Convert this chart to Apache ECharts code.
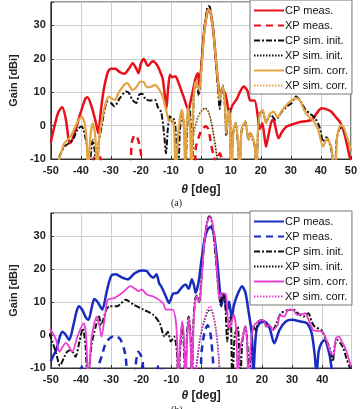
<!DOCTYPE html>
<html><head><meta charset="utf-8">
<script src="https://cdn.jsdelivr.net/npm/echarts@6/dist/echarts.min.js"></script>
<style>html,body{margin:0;padding:0;background:#fff}#c{width:360px;height:409px}</style>
</head><body><div id="c"></div><script>
// ---- tick labels ----
const xTicksA = [-50,-40,-30,-20,-10,0,10,20,30,40,50];
const xTicksB = [-50,-40,-30,-20,-10,0,10,20,30,40];
const yTicks = [-10,0,10,20,30];
const legendNames = ['CP meas.','XP meas.','CP sim. init.','XP sim. init.','CP sim. corr.','XP sim. corr.'];

// ---- (a) data: [theta deg, gain dBi] ----
const cpMeasA = [[-50,-5],[-49,-1],[-47.5,4],[-46.2,5.5],[-45,2],[-44,-4.5],[-43.5,-5.3],[-42,-2],[-40,4],[-38.5,8],[-37.8,8.5],[-36.5,6],[-35,1],[-34.2,-2.3],[-33.5,3],[-32.5,10],[-31,16],[-30,17],[-28.5,17],[-27,16],[-25.5,15.5],[-24,17],[-22.7,18.7],[-21.5,17],[-20.8,15.7],[-20,18.5],[-19,19.9],[-18,18.3],[-17.5,17.9],[-16.5,19],[-15.9,19.3],[-14.5,18],[-13.5,16],[-12.7,14],[-12,9],[-11.5,5],[-11,10],[-10.3,15.2],[-9.5,14.5],[-8.5,14.8],[-7.5,13],[-6.5,10.5],[-5.5,8],[-4.2,4.7],[-3,9],[-1.8,14],[-1,15.7],[-0.5,12],[0,16],[1,27],[2,33.5],[2.6,34.7],[3.3,33.5],[4.3,27],[5.3,17],[6.1,10.7],[7,10],[8,10],[9.5,3.5],[10.5,6],[12,8],[13,10],[14.3,11.7],[15.5,10.5],[16.5,7.5],[17.9,7.5],[19,2.7],[19.6,-1],[20.5,0.7],[21.7,-6.3],[22.5,-3],[23.8,1.7],[24.5,1],[25.9,-3.8],[27,-2],[28.6,-0.3],[31,0.5],[33.9,1.2],[37,1.7],[38.5,3.5],[40.2,5.2],[41.5,5],[43.4,4.2],[45,2.5],[46.6,0.7],[48,-3],[49.7,-9.8],[50,-10.5]];
const xpMeasA = [[-36.5,-15],[-35,-7.5],[-34.3,-12],[-33.5,-9.5],[-32.8,-12],[-24,-12],[-23,-5],[-22,-2.8],[-21,-4],[-20,-8],[-19.5,-12],[-2.5,-12],[-1.6,-6.2],[0,-1.8],[1.6,-0.2],[2.5,-1],[3.5,-6],[4.2,-8.8],[5,-11],[5.5,-10],[6.3,-8.3],[7,-10],[7.5,-13]];
const cpSimInitA = [[-50,-20],[-48,-12],[-47,-9],[-45.5,-6.3],[-44,-5.3],[-42.5,-4],[-41,-1],[-39.7,-0.3],[-39,-1.5],[-38,-6],[-37.3,-15],[-36.5,-7],[-36,-4.3],[-35.3,-8],[-34.8,-15],[-34,-5],[-33,0],[-32.3,3.7],[-31.2,7.2],[-30,6.8],[-28.8,5.8],[-27,8.2],[-25,10.2],[-24,9.8],[-22.8,7.7],[-21.5,6.8],[-20.6,9.2],[-19.5,9.5],[-18.5,8],[-17,7.5],[-15.3,7.7],[-14.3,5.5],[-13.2,4],[-12.3,-2],[-11.6,-8.3],[-11,-1],[-10.3,3.2],[-9.6,1.2],[-9,2],[-8.5,-0.3],[-7.6,-15],[-7,-2],[-6.3,4.2],[-5.5,-2],[-5.1,-15],[-4.6,-1],[-3.9,5.7],[-3.3,0],[-2.9,-15],[-2.4,8],[-1.7,13.2],[-1.2,12],[-0.7,9],[0,16],[1,28],[2,34.5],[2.5,35.8],[3,35.5],[4,30],[5,19],[5.8,10],[6.3,5],[6.7,9],[7.3,12],[8,6],[8.5,-3],[9,2],[9.6,5],[10.1,-15],[10.8,-2],[11.6,0.7],[12.3,-5],[12.9,-15],[13.5,-2],[14.8,1.2],[15.9,-4.3],[16.5,-2.3],[17.2,-4],[18,-6.3],[18.5,-15],[19,-3],[19.6,3.7],[20.6,4.2],[21.7,1.2],[23.3,3.2],[24.9,1.7],[27,4.2],[28.6,5.7],[30.2,6.7],[31.7,8.7],[33.3,7.2],[34.9,4.7],[36.5,3.5],[38.1,2.2],[39.7,-0.8],[40.7,-4.8],[41.8,-3.5],[43.4,-6.8],[44.5,-15],[45.3,-4],[46,-1.3],[47.1,-0.3],[48.2,-2.5],[49.7,-6.3],[50,-7.5]];
const xpSimInitA = [[-4.5,-15],[-3.5,-10],[-2.5,-3],[-1,2.5],[0.5,4.8],[1.5,5.2],[2.5,4.2],[3.5,1],[4.5,-4],[5.5,-10],[6.5,-15]];
const cpSimCorrA = [[-50,-20],[-48.5,-13],[-47.1,-9.8],[-45.5,-5.3],[-43.4,-3.3],[-41.3,0.7],[-39.7,2.7],[-38.8,1],[-38,-5],[-37.6,-15],[-36.8,-3],[-36,0.7],[-35.2,-3],[-34.5,-15],[-33.8,-3],[-32.7,3],[-31.7,6.7],[-30.7,8.7],[-29.5,8],[-28.6,7.7],[-27.5,9.7],[-25.5,12.2],[-24.5,12.7],[-22.8,10.7],[-21.5,11.5],[-20.1,13.2],[-19,13],[-18,11.5],[-17,11.5],[-15.3,12.2],[-14,11],[-12.7,8.7],[-11.6,4.7],[-10.5,1.5],[-9.5,1.7],[-8.9,-1],[-8.4,-15],[-7.5,-2],[-6.3,4.7],[-5.6,-1],[-5.2,-15],[-4.8,-1],[-4.2,5.7],[-3.6,-1],[-3.1,-15],[-2.6,5],[-2.1,11.7],[-1.6,13.2],[-1,11.5],[-0.5,10.7],[0.2,17],[1.1,27.7],[2,33.5],[2.6,34.9],[3.2,34],[4.2,27.7],[5.2,18],[5.8,12],[6.3,7.7],[6.8,10],[7.4,11.7],[8,7],[8.5,-2.3],[9,2],[9.5,4.7],[10.2,-15],[10.9,-1],[11.6,0.7],[12.3,-4],[12.9,-15],[13.6,-1],[14.8,1.2],[15.9,-4.3],[16.6,-2.3],[17.3,-3.5],[18,-6.3],[18.5,-15],[19,-2],[19.6,3.2],[20.6,4.7],[21.7,0.7],[23,3.5],[24.3,4.2],[25.5,2.5],[27,4.5],[29.1,6.7],[31.7,8.2],[33,7.5],[34.4,4.7],[35.9,2.7],[37.5,1.5],[39.1,-1.3],[40.7,-6.3],[42,-4],[43.5,-6.5],[44.6,-15],[45.5,-3],[46.6,0.2],[47.6,-0.5],[48.5,-3],[49.7,-6.3],[50,-7.5]];
const xpSimCorrA = [[-4.5,-15],[-3.5,-10.5],[-2.5,-3.5],[-1,2],[0.5,4.5],[1.5,4.9],[2.5,4],[3.5,0.8],[4.5,-4.5],[5.5,-10.5],[6.5,-15]];

// ---- (b) data: [theta deg, gain dBi] ----
const cpMeasB = [[-50,-8],[-49,-6],[-48.2,-4.6],[-47,-0.5],[-46.1,1],[-45,0],[-43.9,-1.5],[-42.5,3],[-41.5,7],[-40.7,8.7],[-39.5,7.5],[-38.5,5.5],[-37.5,4.6],[-36.5,8],[-35.6,10.9],[-34.5,10],[-33.5,8.5],[-32.9,7.7],[-31.5,13],[-30,17.9],[-28.4,18.4],[-26.5,17.5],[-24.4,16.9],[-22.5,18.5],[-21,19.3],[-19.8,19.6],[-18.2,19.4],[-17,18],[-16,17.4],[-15,18.4],[-14,15.5],[-13.4,14.8],[-12,12],[-10.8,9.7],[-9.5,12.5],[-8,12.8],[-6.5,14.5],[-5.3,15.3],[-4.3,14],[-3.2,16.9],[-2.5,15],[-2,12.8],[-1,16],[0,23],[1,29],[2,32],[3,32.8],[4,31],[5,24],[6,14],[6.5,8.7],[7.5,12.5],[8.3,7],[9.1,10.2],[10,5],[10.7,9],[12,12.5],[13.4,14.8],[14.5,13],[15.6,7],[16.6,0.5],[17.2,-12],[17.6,-5],[18.2,1.5],[19.3,3.6],[20.9,4],[22.5,2.2],[24.1,-2.5],[25.8,1.5],[27.9,4.1],[30,4.6],[32.7,4.1],[34.9,3.6],[36.5,0.5],[37.5,-6],[38.1,-12],[38.8,-5],[39.7,-2.5],[40.7,-1.5],[42.3,-5.5],[43.5,-12],[45,-15]];
const xpMeasB = [[-41,-15],[-40,-10],[-39.2,-9.5],[-38.5,-15],[-34.5,-15],[-33.9,-8.7],[-33.2,-6.6],[-32,-3],[-31,-1.5],[-29,-0.2],[-27.5,-0.8],[-26.8,-1.5],[-25.8,-4],[-25.2,-6.5],[-24.5,-12],[-22.5,-15],[-22,-10],[-21,-5.1],[-20.2,-6],[-19.5,-8.5],[-19,-15],[-15,-15],[-14.5,-9.5],[-14,-12],[-13,-9.5],[-12.5,-15],[-1,-15],[0,-5],[1,1],[2,3],[3,0],[3.8,-8],[4.3,-15]];
const cpSimInitB = [[-50.5,0.5],[-49.5,-2],[-48.2,-5.6],[-47,-9.3],[-45.5,-6.6],[-44.5,-5],[-43.4,-4.6],[-42.5,-5.5],[-41.8,-6.6],[-40.5,-2],[-39.4,2],[-38.5,-3],[-37.8,-15],[-36.5,-3],[-35.1,2.6],[-34,5.6],[-33.3,3],[-32.5,5],[-31.6,7.7],[-30.5,8.7],[-28,8.7],[-25.2,10.7],[-22.5,9.2],[-19.3,7.7],[-16,6.1],[-13.9,3.6],[-12.3,-0.5],[-11.2,1],[-10.2,-2],[-9.1,-0.5],[-8.2,-5],[-7.7,-15],[-7,-3],[-6.4,3],[-5.9,-3],[-5.4,-15],[-4.9,-1],[-4.3,5.6],[-3.7,1],[-3.2,-15],[-2.7,4],[-2.1,11.2],[-1.5,12],[-0.8,10],[0,18],[1,29],[2,35],[2.6,36],[3.2,35.3],[4,30],[5,20],[5.8,12],[6.4,9],[7,13],[7.8,10],[8.5,-2],[9,3],[9.6,5.5],[10.2,-15],[11,0],[12,2.5],[12.8,-15],[13.5,-2],[14.5,2.6],[15.2,-3],[15.7,-15],[16.5,-2],[17.2,2.6],[18,1.5],[18.8,4.1],[20.4,4.6],[21.5,2.6],[22.5,3],[23.6,1.5],[25,4],[26.3,6.6],[28.5,7.5],[30.6,7.7],[32,6.5],[33.8,5.6],[35.4,6.6],[36.5,4],[37.5,2.5],[39.7,1.5],[41,-1],[42.5,-4],[43.5,-8],[44.2,-3],[45,-1.5],[46,-2.5],[47,-4],[48,-7],[49,-9.5],[49.5,-10.5]];
const xpSimInitB = [[-2.5,-15],[-1.5,-8],[-0.5,-1],[0.8,4],[2,7],[3,7.7],[4,5.5],[5,0],[5.8,-8],[6.3,-15]];
const cpSimCorrB = [[-50.3,2],[-49.3,0.5],[-48.2,-1.5],[-47.1,-5.1],[-46,-3.5],[-45,-2.4],[-44,-3.5],[-42.9,-5.1],[-41,0],[-39.1,3.6],[-38.3,0],[-37.6,-15],[-36.5,-1],[-34.8,5.6],[-33.9,3],[-33.2,-0.5],[-32,6],[-31.1,10.7],[-28.9,11.2],[-26,13],[-23.6,14.8],[-22,14],[-20.9,13.3],[-19.8,13.8],[-18.2,12.3],[-16,11.7],[-12.8,9.7],[-11.8,7.7],[-9.6,7.7],[-8.6,4.6],[-8.1,-2],[-7.8,-15],[-7.1,-2],[-6.4,4.1],[-5.8,-2],[-5.3,-15],[-4.8,-1],[-4.3,5.1],[-3.7,-1],[-3.2,-15],[-2.7,3],[-2.1,10.2],[-1.6,11.7],[-1,10],[-0.3,13],[0.8,27],[1.8,34],[2.7,35.8],[3.5,34.5],[4.5,27],[5.4,15],[5.9,11],[6.5,12.8],[7.5,12.5],[8.1,12.3],[8.8,4],[9.3,2],[10.7,6.1],[11.5,1],[12,-15],[12.6,-5],[13.4,-1.5],[14.5,2.6],[15,-0.5],[15.5,-15],[16.3,-3],[17.2,2.6],[18.8,4.1],[20.4,4.6],[21.5,2.6],[22.5,3],[23.6,1.5],[25.2,3.1],[26,6],[27.4,5.6],[28.5,7.5],[29.5,7.7],[30.5,7.5],[31.6,6.1],[33,6.3],[34.3,6.6],[35.9,3.6],[37,1.5],[38.6,1.2],[40,1],[41,-0.5],[42.9,-5.6],[43.8,-6],[44.5,-1],[45.6,-0.5],[46.5,-2],[47.7,-4.1],[49.3,-8.7],[49.6,-9.5]];
const xpSimCorrB = [[-2.5,-15],[-1.5,-7.5],[-0.5,-0.5],[0.8,4.5],[2,8],[2.8,8.7],[3.8,6.5],[4.8,1],[5.7,-7],[6.3,-15]];

const RED = '#e8101a', ORANGE = '#e3a443', BLUE = '#1a2cc0', MAGENTA = '#ea3fd6', BLACK = '#111';
const ZW = '\u200b';

function mkSeries(name, data, color, width, type, xi, yi, z) {
  return { name, type: 'line', data, xAxisIndex: xi, yAxisIndex: yi, symbol: 'none', smooth: 0.25,
    clip: true, z, lineStyle: { color, width, type }, itemStyle: { color } };
}
const DASH = [7, 5], DASHDOT = [6, 2, 2, 2], DOT = [1.5, 1.5];
const sA = [
  mkSeries(legendNames[0], cpMeasA, RED, 2.5, 'solid', 0, 0, 2),
  mkSeries(legendNames[1], xpMeasA, RED, 2.5, DASH, 0, 0, 2),
  mkSeries(legendNames[2], cpSimInitA, BLACK, 2, DASHDOT, 0, 0, 3),
  mkSeries(legendNames[3], xpSimInitA, BLACK, 1.5, DOT, 0, 0, 3),
  mkSeries(legendNames[4], cpSimCorrA, ORANGE, 2.2, 'solid', 0, 0, 4),
  mkSeries(legendNames[5], xpSimCorrA, ORANGE, 1.5, DOT, 0, 0, 4)
];
const sB = [
  mkSeries(legendNames[0]+ZW, cpMeasB, BLUE, 2.5, 'solid', 1, 1, 2),
  mkSeries(legendNames[1]+ZW, xpMeasB, BLUE, 2.5, DASH, 1, 1, 2),
  mkSeries(legendNames[2]+ZW, cpSimInitB, BLACK, 2, DASHDOT, 1, 1, 3),
  mkSeries(legendNames[3]+ZW, xpSimInitB, BLACK, 1.5, DOT, 1, 1, 3),
  mkSeries(legendNames[4]+ZW, cpSimCorrB, MAGENTA, 1.8, 'solid', 1, 1, 4),
  mkSeries(legendNames[5]+ZW, xpSimCorrB, MAGENTA, 1.5, DOT, 1, 1, 4)
];

const FONT = 'Liberation Sans, Arial, sans-serif';
function xAx(gi, ticks, max, gap) {
  return { type: 'value', gridIndex: gi, min: -50, max, interval: 10,
    name: '{i|θ} [deg]', nameLocation: 'middle', nameGap: gap,
    nameTextStyle: { fontFamily: FONT, fontSize: 12, fontWeight: 'bold', color: '#222',
      rich: { i: { fontFamily: FONT, fontSize: 12, fontWeight: 'bold', fontStyle: 'italic', color: '#222' } } },
    axisLine: { show: true, onZero: false, lineStyle: { color: '#333', width: 1 } },
    axisTick: { show: true, inside: true, length: 3, lineStyle: { color: '#333' } },
    splitLine: { show: true, lineStyle: { color: '#cfcfcf', width: 1 } },
    axisLabel: { fontFamily: FONT, fontSize: 11, fontWeight: 'bold', color: '#222', margin: 6,
      formatter: v => ticks.includes(v) ? String(v) : '' } };
}
function yAx(gi) {
  return { type: 'value', gridIndex: gi, min: -10, max: 37, interval: 10,
    name: 'Gain [dBi]', nameLocation: 'middle', nameGap: 24, nameRotate: 90,
    nameTextStyle: { fontFamily: FONT, fontSize: 11, fontWeight: 'bold', color: '#222' },
    axisLine: { show: true, onZero: false, lineStyle: { color: '#333', width: 1 } },
    axisTick: { show: true, inside: true, length: 3, lineStyle: { color: '#333' } },
    splitLine: { show: true, lineStyle: { color: '#cfcfcf', width: 1 } },
    axisLabel: { fontFamily: FONT, fontSize: 11, fontWeight: 'bold', color: '#222', margin: 5,
      formatter: v => yTicks.includes(v) ? String(v) : '' } };
}
function lg(names, top) {
  return { data: names, orient: 'vertical', left: 250, top, itemWidth: 30, itemHeight: 10, itemGap: 4,
    padding: [5, 4, 3, 3], backgroundColor: '#fff', borderColor: '#777', borderWidth: 1,
    selectedMode: false, itemStyle: { opacity: 0 },
    textStyle: { fontFamily: FONT, fontSize: 11, color: '#111', padding: [0, 0, 0, -4] } };
}

const chart = echarts.init(document.getElementById('c'), null, { renderer: 'canvas' });
chart.setOption({
  animation: false,
  backgroundColor: '#fff',
  grid: [
    { left: 37.5, right: 7.5, top: 2, height: 157, show: true, borderColor: '#333', borderWidth: 1, backgroundColor: 'transparent' },
    { left: 41, right: 8.5, top: 213, height: 155, show: true, borderColor: '#333', borderWidth: 1, backgroundColor: 'transparent' }
  ],
  xAxis: [xAx(0, xTicksA, 50, 25), xAx(1, xTicksB, 49.7, 22)],
  yAxis: [yAx(0), yAx(1)],
  legend: [lg(sA.map(s => s.name), 0), lg(sB.map(s => s.name), 211)],
  graphic: [
    { type: 'text', left: 171, top: 198, style: { text: '(a)', font: '10px "Liberation Serif", serif', fill: '#222' } },
    { type: 'text', left: 171, top: 405, style: { text: '(b)', font: '10px "Liberation Serif", serif', fill: '#222' } }
  ],
  series: sA.concat(sB)
});
</script></body></html>
